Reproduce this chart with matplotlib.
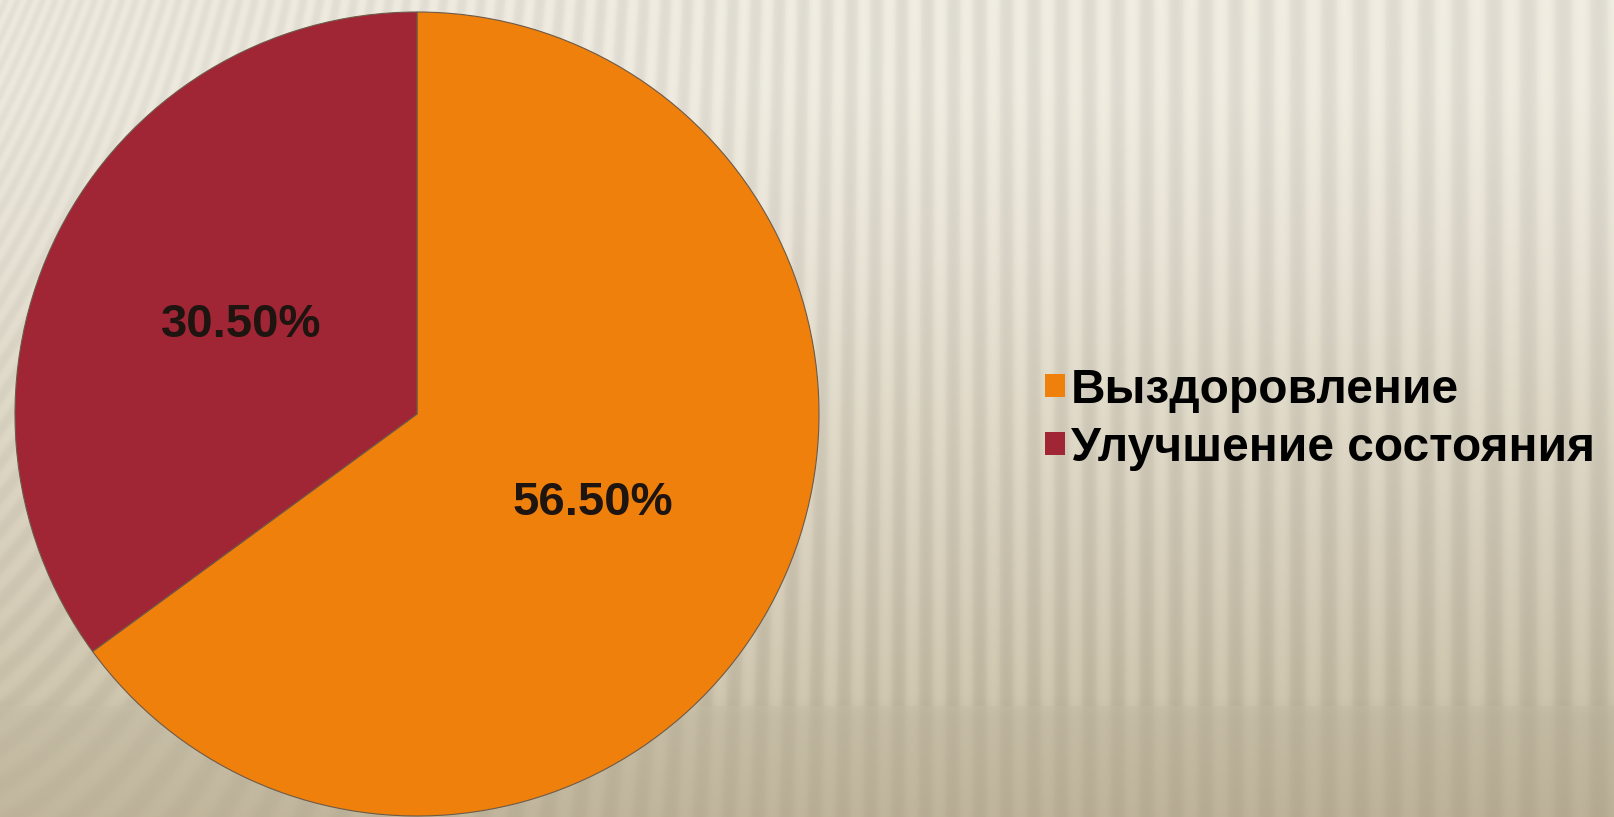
import numpy as np
import matplotlib.pyplot as plt
from matplotlib.patches import Patch

plt.rcParams['font.family'] = ['Liberation Sans', 'DejaVu Sans']

# данные диаграммы
categories = ['Выздоровление', 'Улучшение состояния']
values = [56.5, 30.5]
colors = ['#ef800b', '#a02535']

W, H = 1614, 817
fig = plt.figure(figsize=(W / 100, H / 100), dpi=100)

# фон: бежевые вертикальные полосы с перспективой
yy, xx = np.mgrid[0:H, 0:W].astype(float)
k = 0.45 * np.clip(1 - xx / 1000.0, 0, None) ** 2
x_eff = xx + k * yy
xs = np.arange(0, W + 800)
spacing = 12 + 24 * np.clip(xs / W, 0, 1.2)
phase_tab = np.cumsum(1.0 / spacing)
phase = np.interp(x_eff, xs, phase_tab)
stripe = np.cos(2 * np.pi * phase)
stripe = np.sign(stripe) * np.abs(stripe) ** 0.7

t = yy / H
top = np.array([0.910, 0.895, 0.852])
bot = np.array([0.770, 0.730, 0.630])
mix = np.clip((t - 0.1) / 0.9, 0, 1) ** 1.2
bg = top[None, None, :] * (1 - mix[..., None]) + bot[None, None, :] * mix[..., None]
# чуть темнее справа
bg = bg - 0.03 * (xx / W)[..., None] * t[..., None]
amp = 0.018 + 0.017 * np.clip(xx / 900, 0, 1)
amp = amp * np.where(yy > 705, 0.5, 1.0)
bg = bg + (amp * stripe)[..., None] * np.array([1.0, 1.0, 0.95])
band = np.clip((yy - 695) / 20, 0, 1)
bg -= 0.02 * band[..., None]
bg = np.clip(bg, 0, 1)

bg_ax = fig.add_axes([0, 0, 1, 1])
bg_ax.imshow(bg, aspect='auto', interpolation='bilinear')
bg_ax.axis('off')

# круговая диаграмма
r_px = 402
cx, cy = 417, 414
ax = fig.add_axes([(cx - r_px) / W, (H - cy - r_px) / H, 2 * r_px / W, 2 * r_px / H])
total = sum(values)
wedges, texts, autotexts = ax.pie(
    values, colors=colors, startangle=90, counterclock=False,
    autopct=lambda p: f'{p * total / 100:.2f}%', pctdistance=0.49,
    wedgeprops=dict(edgecolor='#6e5a48', linewidth=0.8),
    textprops=dict(fontsize=34, fontweight='bold', color='#1e1410'))
ax.set_xlim(-1, 1)
ax.set_ylim(-1, 1)
ax.axis('off')

handles = [Patch(facecolor=c, edgecolor='none') for c in colors]
fig.legend(handles, categories, loc='upper left',
           bbox_to_anchor=(1045 / W, 0.55), frameon=False,
           prop=dict(size=34.5, weight='bold'),
           handlelength=0.42, handleheight=0.36,
           handletextpad=0.12, labelspacing=0.27, borderpad=0,
           borderaxespad=0)

fig.savefig('out.png', dpi=100)
